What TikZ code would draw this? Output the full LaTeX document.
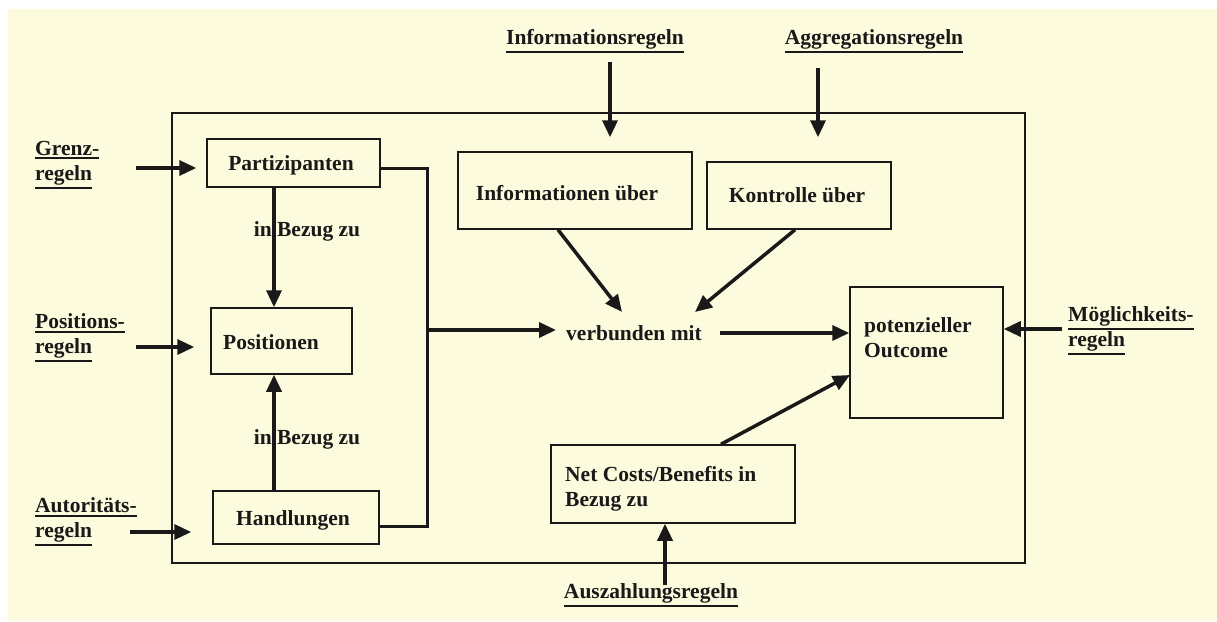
\documentclass[tikz,border=0pt]{standalone}
\usepackage{fontspec}
\setmainfont{Liberation Serif}
\usetikzlibrary{arrows.meta}
\definecolor{cream}{RGB}{253,251,221}
\definecolor{ink}{RGB}{25,25,25}
\newcommand\myul[1]{\setbox0\hbox{#1}\rlap{\usebox0}\rule[-\dimexpr\dp0+3.6pt\relax]{\wd0}{1.8pt}}
\begin{document}
\begin{tikzpicture}[x=1pt,y=-1pt,
  font=\fontsize{21.5}{25}\selectfont\bfseries,
  every node/.style={text=ink},
  box/.style={draw=ink, line width=1.5pt, inner sep=0pt, rectangle},
  txt/.style={inner sep=0pt, align=left},
  lbl/.style={inner sep=0pt, align=left, anchor=west},
  arr/.style={draw=ink, line width=3.5pt, -{Triangle[length=17pt,width=15pt]}},
  brk/.style={draw=ink, line width=3pt}]
\useasboundingbox (0,0) rectangle (1217,621);
\fill[white] (0,0) rectangle (1217,621);
\fill[cream] (8,9) rectangle (1217,621);

% outer frame
\node[box, minimum width=853pt, minimum height=450pt] (outer) at (598.5,338) {};

% boxes
\node[box, minimum width=173pt, minimum height=48pt] (part) at (293.5,163) {};
\node[box, minimum width=141pt, minimum height=66pt] (pos) at (281.5,341) {};
\node[box, minimum width=166pt, minimum height=53pt] (hand) at (296,517.5) {};
\node[box, minimum width=234pt, minimum height=77pt] (info) at (575,190.5) {};
\node[box, minimum width=184pt, minimum height=67pt] (kontr) at (799,195.5) {};
\node[box, minimum width=153pt, minimum height=131pt] (out) at (926.5,352.5) {};
\node[box, minimum width=244pt, minimum height=78pt] (net) at (673,484) {};

% box texts
\node[txt] (tpart) at (291,165) {Partizipanten};
\node[txt] (tpos) at (271,342) {Positionen};
\node[txt] (thand) at (293,520) {Handlungen};
\node[txt] (tinfo) at (567,193) {Informationen über};
\node[txt] (tkontr) at (797,195) {Kontrolle über};
\node[txt, anchor=west] (tout) at (864,338) {potenzieller\\Outcome};
\node[txt, anchor=west] (tnet) at (565,489) {Net Costs/Benefits in\\Bezug zu};
\node[txt] (verb) at (634,333) {verbunden mit};
\node[txt] (bz1) at (307,231) {in Bezug zu};
\node[txt] (bz2) at (307,439) {in Bezug zu};

% rule labels
\node[lbl] (grenz) at (35,165) {\myul{Grenz-}\\\myul{regeln}};
\node[lbl] (posr) at (35,338) {\myul{Positions-}\\\myul{regeln}};
\node[lbl] (autr) at (35,522) {\myul{Autoritäts-}\\\myul{regeln}};
\node[lbl] (moeg) at (1068,331) {\myul{Möglichkeits-}\\\myul{regeln}};
\node[txt] (infor) at (595,41) {\myul{Informationsregeln}};
\node[txt] (aggr) at (874,41) {\myul{Aggregationsregeln}};
\node[txt] (ausz) at (651,595) {\myul{Auszahlungsregeln}};

% free ends
\coordinate (g1) at (136,168);
\coordinate (p1) at (136,347);
\coordinate (a1) at (130,532);
\coordinate (m1) at (1062,329);
\coordinate (i1) at (610,62);
\coordinate (ag1) at (818,68);
\coordinate (au1) at (665,585);
\coordinate (br1) at (427,168);
\coordinate (br2) at (427,526);
\coordinate (brm) at (427,330);
\coordinate (vin) at (622,312);
\coordinate (kin) at (695,312);
\coordinate (oin) at (850,375);

% incoming rule arrows
\draw[arr, shorten >=10pt] (g1) -- (g1 -| part.west);
\draw[arr, shorten >=16pt] (p1) -- (p1 -| pos.west);
\draw[arr, shorten >=21pt] (a1) -- (a1 -| hand.west);
\draw[arr] (m1) -- (m1 -| out.east);
\draw[arr, shorten >=14pt] (i1) -- (i1 |- info.north);
\draw[arr, shorten >=24pt] (ag1) -- (ag1 |- kontr.north);
\draw[arr] (au1) -- (au1 |- net.south);

% internal arrows
\draw[arr] (part.south -| 274,0) -- (pos.north -| 274,0);
\draw[arr] (hand.north -| 274,0) -- (pos.south -| 274,0);
\draw[brk] (br1 -| part.east) -- (br1) -- (br2) -- (br2 -| hand.east);
\draw[arr, shorten >=10pt] (brm) -- (brm -| verb.west);
\draw[arr] ([xshift=-17pt]info.south) -- (vin);
\draw[arr] ([xshift=-4pt]kontr.south) -- (kin);
\draw[arr] ([xshift=86pt]verb.center) -- (verb.center -| out.west);
\draw[arr] ([xshift=48pt]net.north) -- (oin);
\end{tikzpicture}
\end{document}
